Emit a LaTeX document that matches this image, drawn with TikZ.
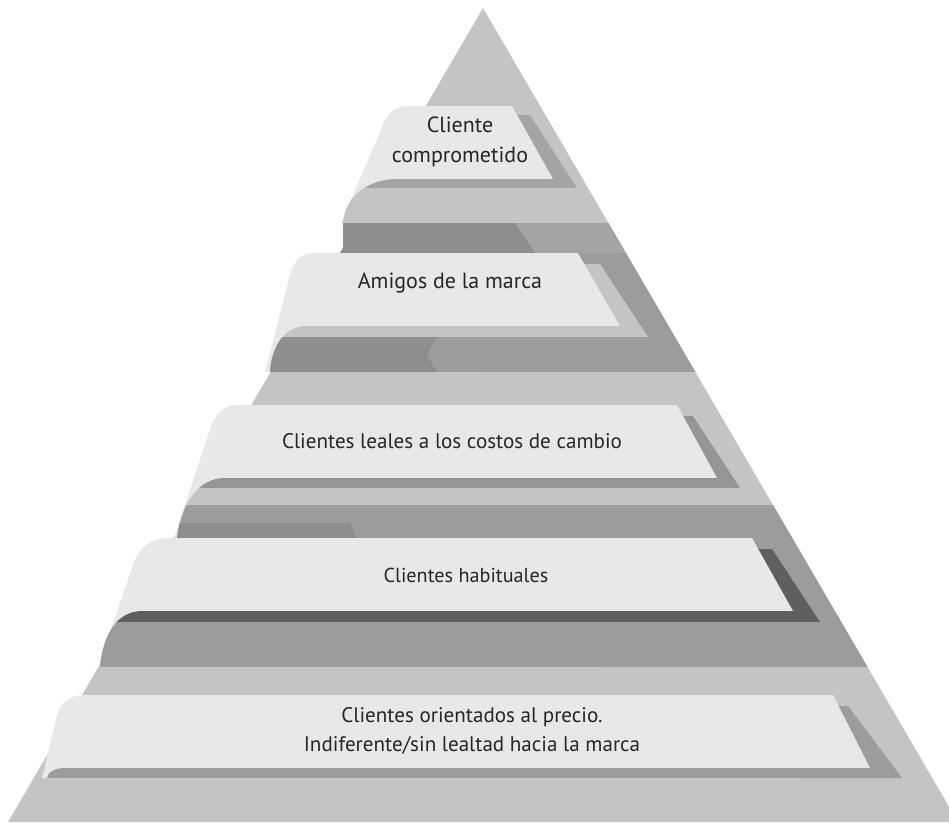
\documentclass[tikz,border=0pt]{standalone}
\usepackage{fontspec}
\setmainfont{PT Sans}
\definecolor{tabface}{HTML}{E8E8E8}
\definecolor{pyrlight}{HTML}{C4C4C4}
\definecolor{pyrmid}{HTML}{A4A4A4}
\definecolor{pyrdark}{HTML}{9C9C9C}
\definecolor{pyrdeep}{HTML}{8E8E8E}
\definecolor{shademid}{HTML}{959595}
\definecolor{shadelow}{HTML}{5F5F5F}

\begin{document}
\begin{tikzpicture}[x=0.02cm,y=-0.02cm,
  tiertext/.style={align=center,font=\fontsize{12}{16.5}\selectfont,text=black!85}]
\useasboundingbox (0,0) rectangle (949,826);
\clip (0,0) rectangle (949,826);

% pyramid body
\begin{scope}
\clip (483,8) -- (958,822) -- (8,822) -- cycle;
\fill[pyrlight] (0,0) rectangle (960,830);
\fill[pyrmid] (0,223) rectangle (960,253);
\fill[pyrdeep] (0,223) -- (515,223) -- (535,253) -- (0,253) -- cycle;
\fill[pyrdark] (0,253) rectangle (960,372);
\fill[pyrdeep] (0,337) -- (437,337) -- (427,355) -- (437,372) -- (0,372) -- cycle;
\fill[pyrdark] (0,505) rectangle (960,667);
\fill[pyrdeep] (0,523) -- (350,523) -- (357,538) -- (0,538) -- cycle;
\end{scope}

% tier 1
\fill[pyrmid] (450,115) -- (530,115) -- (577,188) -- (450,188) -- cycle;
\fill[tabface] (408,106) -- (512,106) -- (553,179) -- (420,179) -- (420,223) -- (341,223) -- (381,130) .. controls (386,114) and (394,106) .. cycle;
\begin{scope}
\clip (343,253) -- (343,223) .. controls (345,195) and (370,179) .. (397,179) -- (582.2,179) -- (625.1,253) -- cycle;
\fill[pyrmid] (0,179) rectangle (560,188);
\fill[pyrlight] (0,188) rectangle (960,223);
\fill[pyrmid] (0,223) rectangle (960,253);
\fill[pyrdeep] (0,223) -- (515,223) -- (535,253) -- (0,253) -- cycle;
\end{scope}
\node[tiertext,font=\fontsize{12.5}{16.8}\selectfont] (committed) at (460,142) {Cliente\\comprometido};

% tier 2
\fill[pyrlight] (500,264) -- (600,264) -- (648,337) -- (500,337) -- cycle;
\fill[tabface] (312,253) -- (578,253) -- (620,326) -- (480,326) -- (480,372) -- (265,372) -- (290,275) .. controls (294,262) and (300,253) .. cycle;
\begin{scope}
\clip (270,372) .. controls (272,345) and (285,326) .. (307,326) -- (667.4,326) -- (694.1,372) -- cycle;
\fill[pyrlight] (0,326) rectangle (630,337);
\fill[pyrdark] (0,337) rectangle (960,372);
\fill[pyrdeep] (0,337) -- (437,337) -- (427,355) -- (437,372) -- (0,372) -- cycle;
\end{scope}
\node[tiertext,font=\fontsize{12.5}{16.5}\selectfont] (friends) at (450,283) {Amigos de la marca};

% tier 3
\fill[shademid] (600,416) -- (693,416) -- (740,488) -- (600,488) -- cycle;
\fill[tabface] (237,405) -- (677,405) -- (717,478) -- (500,478) -- (500,538) -- (174,538) -- (209,432) .. controls (214,416) and (222,405) .. cycle;
\begin{scope}
\clip (177,538) .. controls (182,500) and (200,478) .. (225,478) -- (755.6,478) -- (790.4,538) -- cycle;
\fill[shademid] (0,478) rectangle (725,488);
\fill[pyrlight] (0,488) rectangle (960,505);
\fill[pyrdark] (0,505) rectangle (960,538);
\fill[pyrdeep] (0,523) -- (350,523) -- (357,538) -- (0,538) -- cycle;
\end{scope}
\node[tiertext] (switching) at (452,441) {Clientes leales a los costos de cambio};

% tier 4
\fill[shadelow] (700,549) -- (772,549) -- (820,622) -- (700,622) -- cycle;
\fill[tabface] (172,538) -- (752,538) -- (793,611) -- (600,611) -- (600,667) -- (98,667) -- (134,562) .. controls (140,546) and (152,538) .. cycle;
\begin{scope}
\clip (100,667) .. controls (103,633) and (118,611) .. (142,611) -- (832.7,611) -- (865.2,667) -- cycle;
\fill[shadelow] (0,611) rectangle (800,622);
\fill[pyrdark] (0,622) rectangle (960,667);
\end{scope}
\node[tiertext,font=\fontsize{11.5}{16}\selectfont] (habitual) at (466,575) {Clientes habituales};

% tier 5
\fill[pyrdark] (800,706) -- (848,706) -- (902,778) -- (800,778) -- cycle;
\fill[tabface] (85,695) -- (833,695) -- (870,768) -- (600,768) -- (600,778) -- (42,778) -- (57,715) .. controls (61,702) and (70,695) .. cycle;
\begin{scope}
\clip (47,778) .. controls (48,772) and (55,768) .. (65,768) -- (923.8,768) -- (929.6,778) -- cycle;
\fill[pyrdark] (0,768) rectangle (880,778);
\end{scope}
\node[tiertext] (price) at (472,731) {Clientes orientados al precio.\\Indiferente/sin lealtad hacia la marca};
\end{tikzpicture}
\end{document}
